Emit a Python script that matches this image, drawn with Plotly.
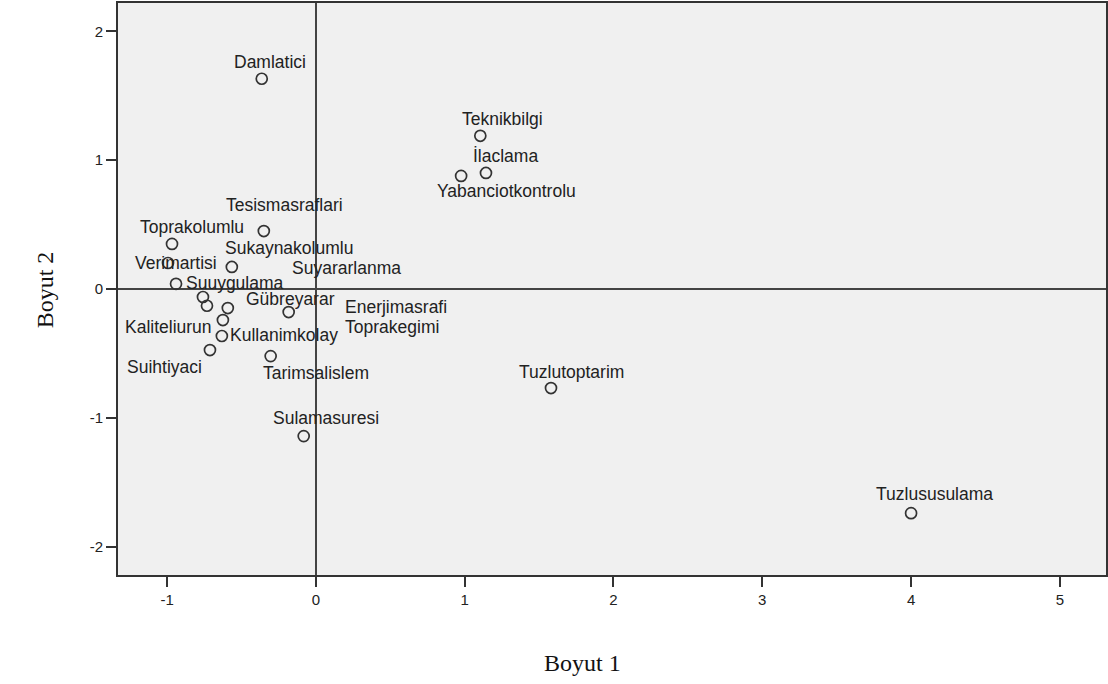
import plotly.graph_objects as go

# --- data ---
names = ["Damlatici", "Teknikbilgi", "İlaclama", "Yabanciotkontrolu", "Tesismasraflari",
         "Toprakolumlu", "Sukaynakolumlu", "Verimartisi", "Suuygulama", "Suyararlanma",
         "Toprakegimi", "Enerjimasrafi", "Kaliteliurun", "Kullanimkolay", "Suihtiyaci",
         "Gübreyarar", "Tarimsalislem", "Sulamasuresi", "Tuzlutoptarim", "Tuzlususulama"]
boyut1 = [-0.364, 1.105, 1.143, 0.976, -0.350,
          -0.967, -0.565, -0.994, -0.940, -0.759,
          -0.732, -0.592, -0.625, -0.632, -0.712,
          -0.183, -0.304, -0.082, 1.580, 4.000]
boyut2 = [1.632, 1.189, 0.901, 0.878, 0.450,
          0.350, 0.171, 0.202, 0.040, -0.062,
          -0.130, -0.148, -0.241, -0.365, -0.474,
          -0.179, -0.521, -1.142, -0.769, -1.740]
x_ticks = [-1, 0, 1, 2, 3, 4, 5]
x_tick_labels = ["-1", "0", "1", "2", "3", "4", "5"]
y_ticks = [-2, -1, 0, 1, 2]
y_tick_labels = ["-2", "-1", "0", "1", "2"]

# label placement offsets in screen pixels (dx right, dy down) - styling only
label_offsets = {
    "Damlatici": (8, -17), "Teknikbilgi": (22, -17), "İlaclama": (20, -17),
    "Yabanciotkontrolu": (45, 15), "Tesismasraflari": (21, -26), "Toprakolumlu": (20, -17),
    "Sukaynakolumlu": (57, -19), "Verimartisi": (8, 0), "Suuygulama": (59, -1),
    "Suyararlanma": (144, -29), "Toprakegimi": (185, 21), "Enerjimasrafi": (168, -1),
    "Kaliteliurun": (-54, 7), "Kullanimkolay": (62, -1), "Suihtiyaci": (-45, 17),
    "Gübreyarar": (2, -13), "Tarimsalislem": (45, 17), "Sulamasuresi": (22, -18),
    "Tuzlutoptarim": (21, -16), "Tuzlususulama": (23, -19),
}

fig = go.Figure()
fig.add_trace(go.Scatter(
    x=boyut1, y=boyut2, mode="markers",
    marker=dict(symbol="circle-open", size=11, color="#333333", line=dict(width=1.7, color="#333333")),
    hoverinfo="text", text=names, showlegend=False,
))

label_font = dict(family="Liberation Sans, Arial, sans-serif", size=17.5, color="#222222")
for n, xv, yv in zip(names, boyut1, boyut2):
    dx, dy = label_offsets[n]
    fig.add_annotation(x=xv, y=yv, xref="x", yref="y", text=n, showarrow=False,
                       xshift=dx, yshift=-dy, font=label_font,
                       xanchor="center", yanchor="middle")

title_font = dict(family="Liberation Serif, Times New Roman, serif", size=24, color="#111111")
fig.add_annotation(text="Boyut 1", xref="paper", yref="paper", x=0.47, y=-0.154,
                   showarrow=False, font=title_font, xanchor="center", yanchor="middle")
fig.add_annotation(text="Boyut 2", xref="paper", yref="paper", x=-0.0737, y=0.498,
                   showarrow=False, font=title_font, textangle=-90,
                   xanchor="center", yanchor="middle")

axis_common = dict(
    showgrid=False, showline=True, linecolor="#333333", linewidth=1.6, mirror=True,
    ticks="outside", ticklen=10, tickwidth=1.5, tickcolor="#333333",
    zeroline=True, zerolinecolor="#444444", zerolinewidth=2,
    tickfont=dict(family="Liberation Sans, Arial, sans-serif", size=15, color="#222222"),
)
fig.update_xaxes(range=[-1.33, 5.31], tickvals=x_ticks, ticktext=x_tick_labels, **axis_common)
fig.update_yaxes(range=[-2.22, 2.22], tickvals=y_ticks, ticktext=y_tick_labels, **axis_common)

fig.update_layout(
    width=1108, height=684,
    margin=dict(l=118, r=0, t=3, b=109),
    plot_bgcolor="#f0f0f0", paper_bgcolor="#ffffff",
)

fig.write_html("out.html", config={"displayModeBar": False},
               post_script="document.body.style.margin='0px';")
